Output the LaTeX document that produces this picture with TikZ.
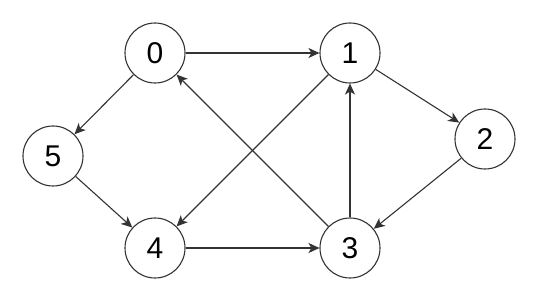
\documentclass[tikz,border=0pt]{standalone}
\usepackage{fontspec}
\setmainfont{Liberation Sans}
\usetikzlibrary{arrows.meta}
\definecolor{edgec}{HTML}{333333}
\begin{document}
\begin{tikzpicture}[x=1pt,y=-1pt,
  vert/.style={circle,draw=edgec,line width=1.1pt,minimum size=60pt,inner sep=0pt,font=\fontsize{30}{36}\selectfont,fill=white},
  arr/.style={draw=edgec,line width=1.1pt,-{Stealth[length=11pt,width=10pt,inset=3pt]}}]
\useasboundingbox (0,0) rectangle (539,302);
\node[vert] (n0) at (155,53) {0};
\node[vert] (n1) at (350,53) {1};
\node[vert] (n2) at (485,139) {2};
\node[vert] (n5) at (53,156) {5};
\node[vert] (n4) at (155,248) {4};
\node[vert] (n3) at (350,248) {3};
\draw[arr] (n0) -- (n1);
\draw[arr] (n0) -- (n5);
\draw[arr] (n5) -- (n4);
\draw[arr] (n4) -- (n3);
\draw[arr] (n3) -- (n1);
\draw[arr] (n3) -- (n0);
\draw[arr] (n1) -- (n4);
\draw[arr] (n1) -- (n2);
\draw[arr] (n2) -- (n3);
\end{tikzpicture}
\end{document}
